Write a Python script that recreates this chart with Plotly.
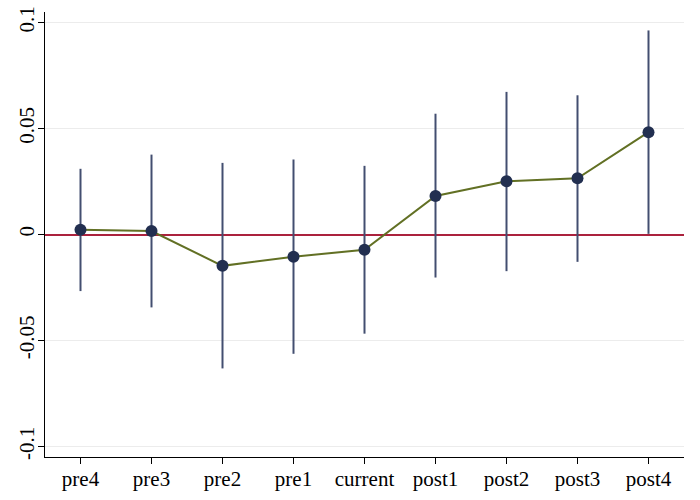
import plotly.graph_objects as go

labels = ["pre4", "pre3", "pre2", "pre1", "current", "post1", "post2", "post3", "post4"]
coef = [0.0022, 0.0016, -0.0148, -0.0105, -0.0072, 0.0182, 0.0251, 0.0265, 0.0483]
ci_hi = [0.0310, 0.0377, 0.0338, 0.0354, 0.0324, 0.0570, 0.0673, 0.0657, 0.0963]
ci_lo = [-0.0267, -0.0344, -0.0632, -0.0563, -0.0468, -0.0203, -0.0173, -0.0129, 0.0003]
y_ticks = [0.1, 0.05, 0, -0.05, -0.1]
y_ticktext = ["0.1", "0.05", "0", "-0.05", "-0.1"]

xs = list(range(1, len(labels) + 1))
err_plus = [h - c for h, c in zip(ci_hi, coef)]
err_minus = [c - l for c, l in zip(coef, ci_lo)]

fig = go.Figure()
fig.add_trace(go.Scatter(
    x=xs, y=coef, mode="markers",
    marker=dict(size=1, color="rgba(0,0,0,0)"),
    error_y=dict(type="data", symmetric=False, array=err_plus, arrayminus=err_minus,
                 color="#434e70", thickness=2, width=0),
    showlegend=False, hoverinfo="skip"))
fig.add_trace(go.Scatter(
    x=xs, y=coef, mode="lines",
    line=dict(color="#627024", width=2),
    showlegend=False))
fig.add_trace(go.Scatter(
    x=xs, y=coef, mode="markers",
    marker=dict(size=12, color="#222f50"),
    showlegend=False))

font = dict(family="Liberation Serif, Times New Roman, serif", size=21, color="black")
fig.update_layout(
    width=700, height=500,
    margin=dict(l=45, r=16, t=12, b=43),
    paper_bgcolor="white", plot_bgcolor="white",
    font=font,
    showlegend=False,
)
fig.update_xaxes(
    range=[0.5, 9.5], tickvals=xs, ticktext=labels,
    automargin=False, ticklabelstandoff=-3,
    showgrid=False, zeroline=False,
    showline=True, linecolor="black", linewidth=1,
    ticks="outside", ticklen=6, tickcolor="black", tickwidth=1,
    tickfont=font,
)
fig.update_yaxes(
    range=[-0.105, 0.105], tickvals=y_ticks, ticktext=y_ticktext,
    tickangle=-90, automargin=False, ticklabelstandoff=-4,
    showgrid=True, gridcolor="#ececec", gridwidth=1,
    zeroline=True, zerolinecolor="#ab223d", zerolinewidth=2,
    showline=True, linecolor="black", linewidth=1,
    ticks="outside", ticklen=6, tickcolor="black", tickwidth=1,
    tickfont=font,
)

fig.write_html("out.html", config={"displayModeBar": False},
               post_script="document.body.style.margin='0';")
